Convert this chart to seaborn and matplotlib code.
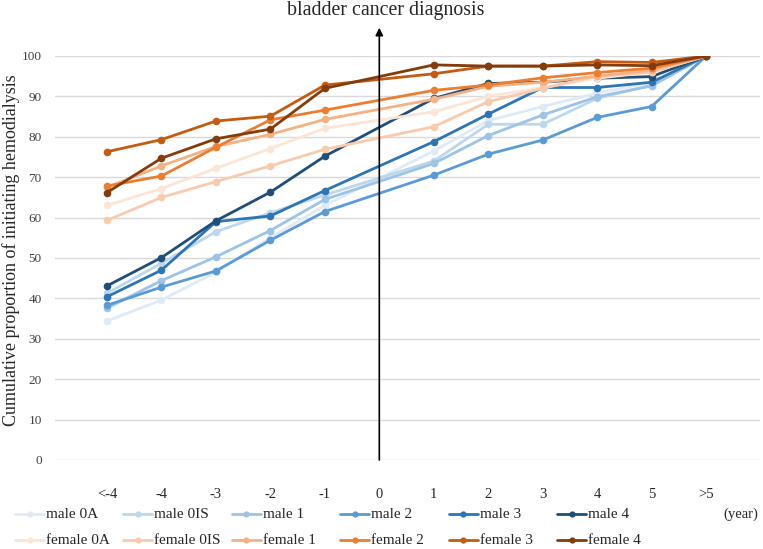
import numpy as np
import pandas as pd
import seaborn as sns
import matplotlib
matplotlib.use("Agg")
from matplotlib import pyplot as plt
from matplotlib.lines import Line2D

# x categories (0 has no data; lines bridge over it)
categorias = ["<-4", "-4", "-3", "-2", "-1", "0", "1", "2", "3", "4", "5", ">5"]
x_datos = ["<-4", "-4", "-3", "-2", "-1", "1", "2", "3", "4", "5", ">5"]

grupos = ["male 0A", "male 0IS", "male 1", "male 2", "male 3", "male 4",
          "female 0A", "female 0IS", "female 1", "female 2", "female 3", "female 4"]

male_0a = [34.4, 39.6, 46.5, 55.0, 63.0, 76.5, 84.0, 87.5, 90.8, 93.5, 100]
male_0is = [41.3, 48.7, 56.5, 61.2, 65.6, 74.0, 83.1, 83.1, 89.5, 92.8, 100]
male_1 = [37.6, 44.4, 50.3, 56.8, 64.5, 73.4, 80.3, 85.4, 89.9, 92.6, 100]
male_2 = [38.3, 42.8, 46.8, 54.4, 61.5, 70.5, 75.7, 79.2, 84.8, 87.5, 100]
male_3 = [40.4, 47.0, 59.0, 60.4, 66.7, 78.8, 85.6, 92.2, 92.2, 93.5, 100]
male_4 = [43.1, 50.1, 59.2, 66.3, 75.2, 89.5, 93.2, 93.5, 94.5, 94.9, 100]

female_0a = [63.0, 67.2, 72.2, 77.1, 82.1, 86.2, 90.0, 92.2, 94.5, 96.0, 100]
female_0is = [59.3, 65.0, 68.9, 72.8, 76.9, 82.5, 88.7, 92.0, 95.0, 96.0, 100]
female_1 = [67.5, 72.8, 77.6, 80.6, 84.3, 89.3, 92.5, 93.5, 95.0, 96.5, 100]
female_2 = [67.8, 70.3, 77.4, 84.2, 86.6, 91.5, 92.8, 94.6, 95.9, 97.0, 100]
female_3 = [76.3, 79.3, 83.9, 85.1, 92.8, 95.6, 97.5, 97.5, 98.6, 98.4, 100]
female_4 = [66.2, 74.7, 79.5, 81.9, 92.0, 97.8, 97.5, 97.5, 97.8, 97.6, 100]

colores = ["#deebf7", "#bdd7ee", "#9dc3e6", "#5b9bd5", "#2e75b6", "#1f4e79",
           "#fbe5d6", "#f8cbad", "#f4b183", "#ed7d31", "#c55a11", "#843c0c"]

series = [male_0a, male_0is, male_1, male_2, male_3, male_4,
          female_0a, female_0is, female_1, female_2, female_3, female_4]

filas = []
for g, valores in zip(grupos, series):
    for c, v in zip(x_datos, valores):
        filas.append({"grupo": g, "pos": categorias.index(c), "valor": v})
df = pd.DataFrame(filas)
paleta = dict(zip(grupos, colores))

sns.set_style("white")
plt.rcParams["font.family"] = ["Liberation Serif", "DejaVu Serif"]

W, H = 763, 549
fig = plt.figure(figsize=(W / 100, H / 100), dpi=100)
ax = fig.add_axes([55 / W, 89 / H, 705 / W, 404 / H])

for y in range(0, 101, 10):
    ax.axhline(y, color="#d9d9d9", lw=1, zorder=0)

sns.lineplot(data=df, x="pos", y="valor", hue="grupo", hue_order=grupos,
             palette=paleta, marker="o", markersize=5.5, markeredgewidth=0,
             linewidth=2, legend=False, ax=ax, zorder=3)

ax.set_xlim(-0.955, 11.99)
ax.set_ylim(0, 100)
ax.set_xticks(range(len(categorias)))
ax.set_xticklabels(categorias, fontsize=10.5)
ax.set_yticks(range(0, 101, 10))
ax.tick_params(axis="x", length=0, pad=20)
ax.tick_params(axis="y", length=0, pad=9.5, labelsize=9.5, labelcolor="#404040")
ax.set_xlabel("")
ax.set_ylabel("")
for s in ax.spines.values():
    s.set_visible(False)

fig.text(11 / W, 1 - 250 / H, "Cumulative proportion of initiating hemodialysis",
         rotation=90, ha="center", va="center", fontsize=13)

# diagnosis arrow
ax.annotate("", xy=(5, 107), xytext=(5, 0), annotation_clip=False,
            arrowprops=dict(arrowstyle="-|>", color="black", lw=1.2,
                            mutation_scale=11, shrinkA=0, shrinkB=0), zorder=5)
fig.text(386 / W, 1 - 11 / H, "bladder cancer diagnosis", ha="center",
         va="center", fontsize=14.3)

# legend laid out in even columns like the original
for i, (g, c) in enumerate(zip(grupos, colores)):
    col, fila = i % 6, i // 6
    x0 = 15 + 108.4 * col
    yy = 1 - (514 + 26 * fila) / H
    fig.add_artist(Line2D([x0 / W, (x0 + 29) / W], [yy, yy], color=c, lw=2))
    fig.add_artist(Line2D([(x0 + 14.5) / W], [yy], color=c, marker="o",
                          markersize=4.5, markeredgewidth=0))
    fig.text((x0 + 31) / W, yy, g, ha="left", va="center", fontsize=11)
fig.text(741 / W, 1 - 514 / H, "(year)", ha="center", va="center", fontsize=10.5)

fig.savefig("out.png", dpi=100)
